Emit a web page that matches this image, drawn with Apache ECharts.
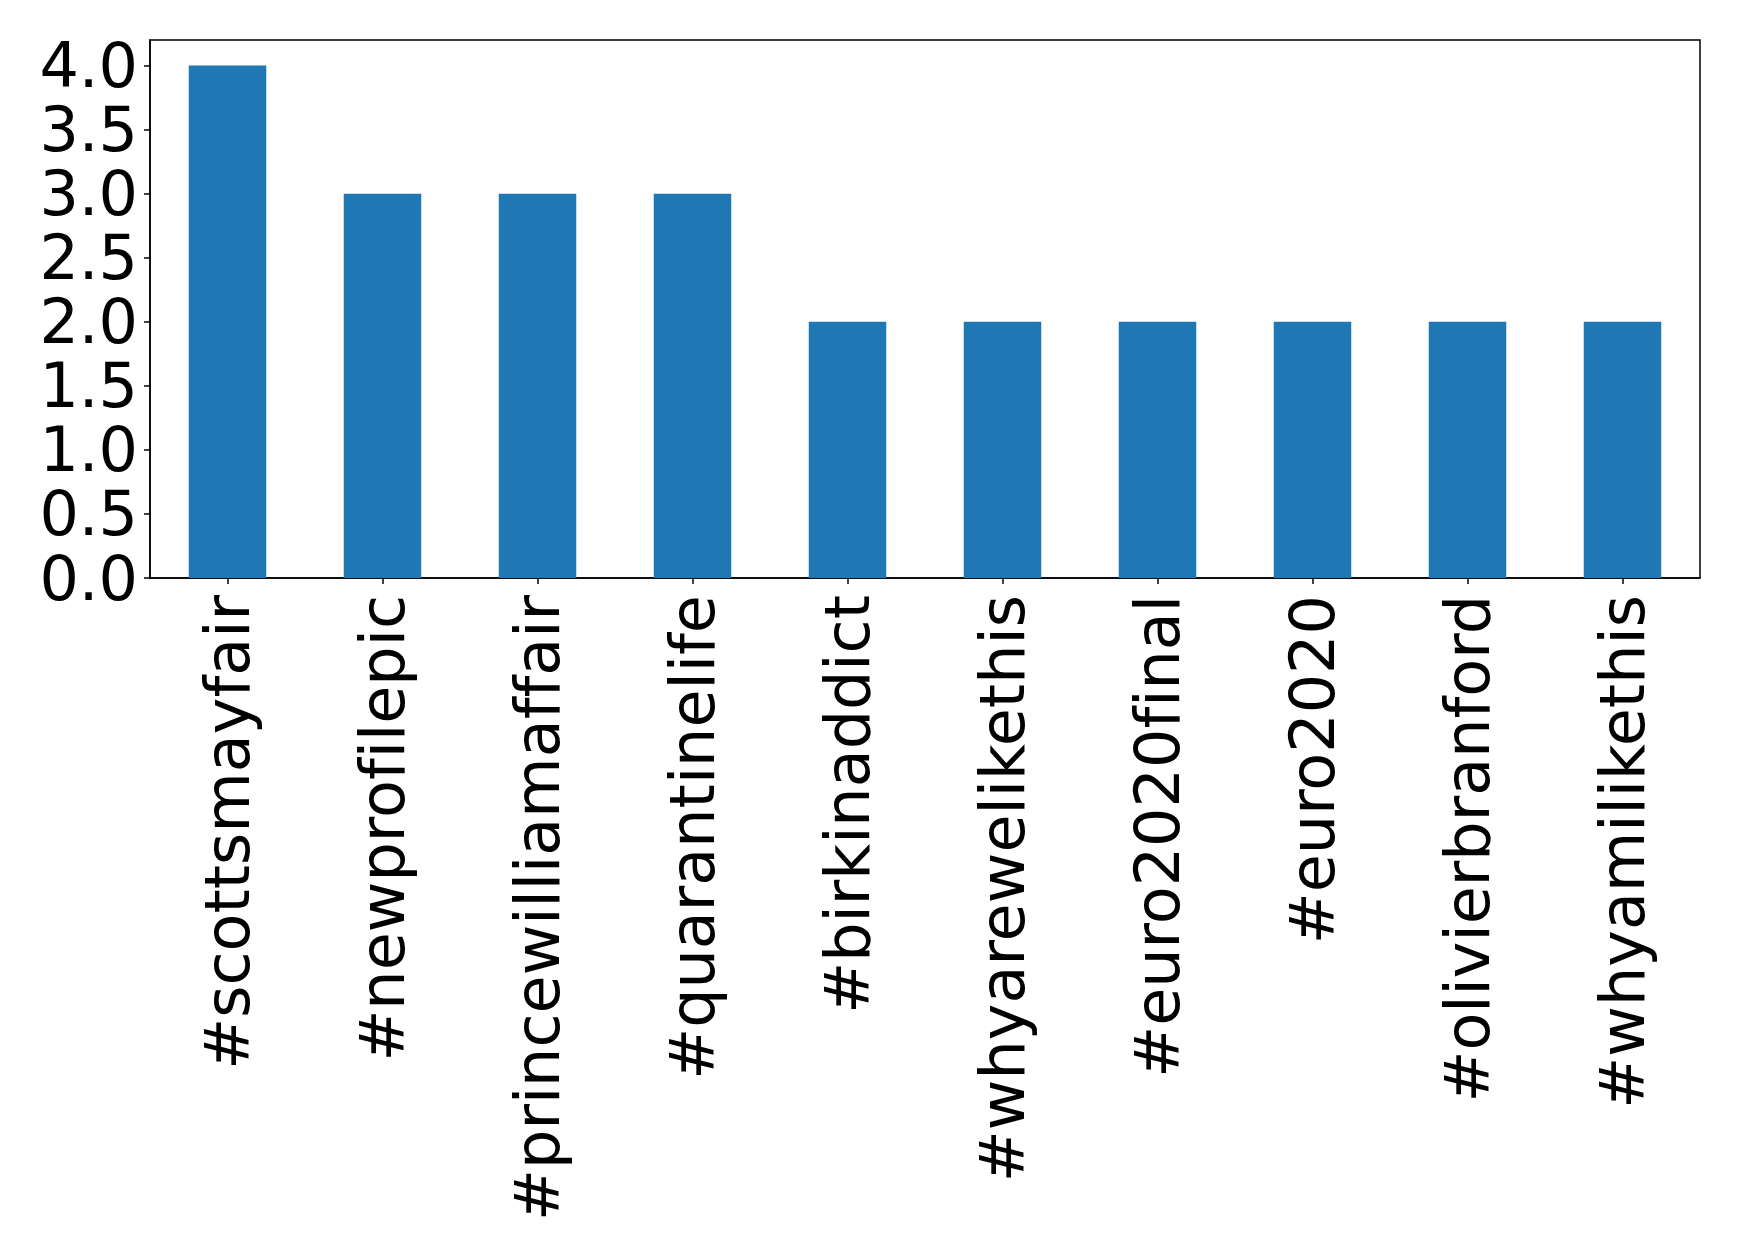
<!DOCTYPE html>
<html>
<head>
<meta charset="utf-8">
<script src="https://cdn.jsdelivr.net/npm/echarts@6/dist/echarts.min.js"></script>
<style>
html,body{margin:0;padding:0;background:#fff;}
#chart{width:1739px;height:1259px;}
#chart text{font-variant-ligatures:none;font-feature-settings:"liga" 0, "clig" 0;}
</style>
</head>
<body>
<div id="chart"></div>
<script>
const categories = ["#scottsmayfair","#newprofilepic","#princewilliamaffair","#quarantinelife","#birkinaddict","#whyareweliketh" + "is","#euro2020final","#euro2020","#olivierbranford","#whyamiliketh" + "is"];
const values = [4,3,3,3,2,2,2,2,2,2];
const yTicks = [0,0.5,1,1.5,2,2.5,3,3.5,4];

const chart = echarts.init(document.getElementById('chart'), null, {renderer:'svg'});
chart.setOption({
  animation:false,
  backgroundColor:'#fff',
  grid:{left:150, top:40, right:39, bottom:681, show:true, borderColor:'#000', borderWidth:1.5, backgroundColor:'transparent', containLabel:false},
  xAxis:{
    type:'category', data:categories,
    axisLine:{show:true, lineStyle:{color:'#000', width:1.5}},
    axisTick:{show:true, alignWithLabel:true, length:6, lineStyle:{color:'#000', width:1.5}},
    axisLabel:{rotate:90, interval:0, color:'#000', fontFamily:'DejaVu Sans', fontSize:62, margin:17}
  },
  yAxis:{
    type:'value', min:0, max:4.2,
    splitLine:{show:false},
    axisLine:{show:true, lineStyle:{color:'#000', width:1.5}},
    axisTick:{show:true, length:6, lineStyle:{color:'#000', width:1.5}, customValues:yTicks},
    axisLabel:{color:'#000', fontFamily:'DejaVu Sans', fontSize:62, margin:12, customValues:yTicks, formatter:v=>v.toFixed(1)}
  },
  series:[{type:'bar', data:values, barWidth:'50%', itemStyle:{color:'#1f77b4'}}]
});
</script>
</body>
</html>
